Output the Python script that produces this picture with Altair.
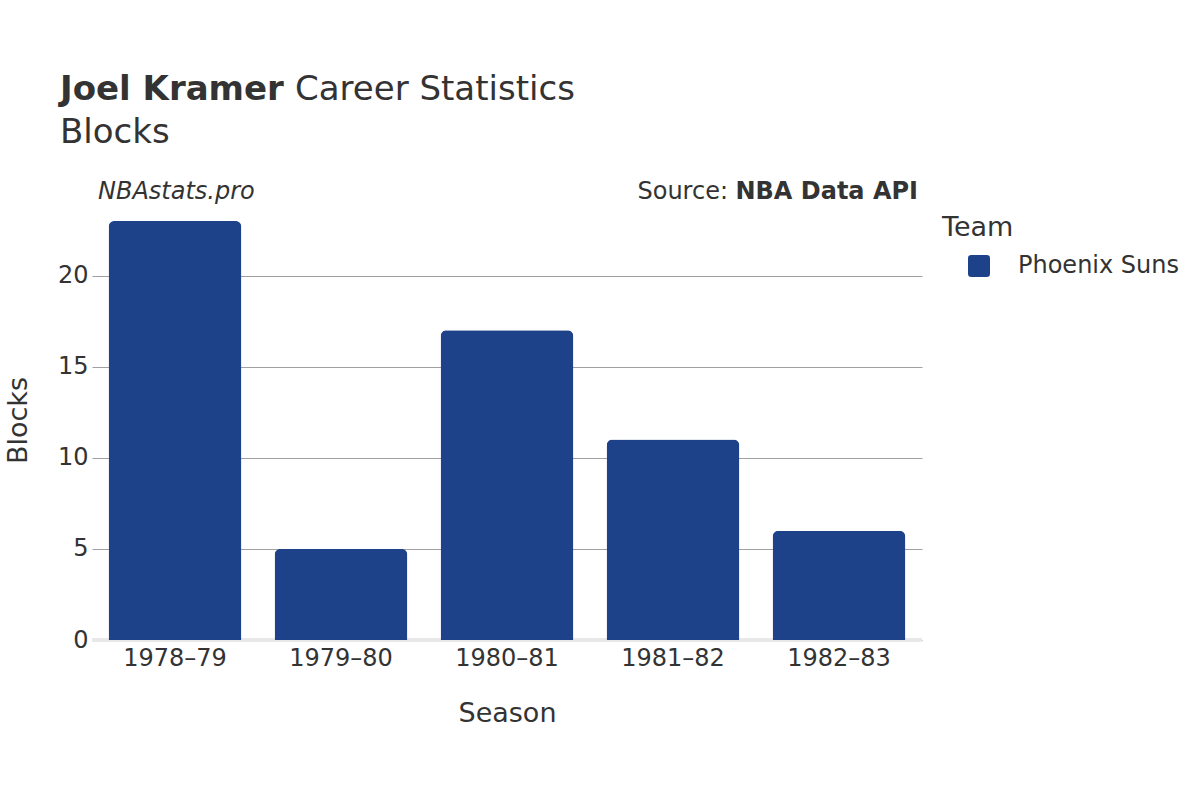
import altair as alt
import pandas as pd

# ---- data ----
seasons = ["1978–79", "1979–80", "1980–81", "1981–82", "1982–83"]
blocks = [23, 5, 17, 11, 6]
teams = ["Phoenix Suns"] * 5
team_colors = ["#1D428A"]
y_ticks = [0, 5, 10, 15, 20]

title_bold = "Joel Kramer"
title_rest = "Career Statistics"
subtitle = "Blocks"
credit = "NBAstats.pro"
source_lbl = "Source:"
source_name = "NBA Data API"

FONT = "DejaVu Sans"
TXT = "#333333"

df = pd.DataFrame({"Season": seasons, "Blocks": blocks, "Team": teams})

W, H = 830, 440

x_enc = alt.X(
    "Season:N",
    sort=seasons,
    scale=alt.Scale(paddingInner=0.2, paddingOuter=0.1),
    axis=alt.Axis(
        title="Season", labelAngle=0, domain=False, ticks=False,
        labelFontSize=24, labelPadding=6, labelColor=TXT, labelFont=FONT,
        titleFontSize=27, titleColor=TXT, titleFont=FONT, titleFontWeight="normal",
        titleBaseline="alphabetic", titleY=81, titleX=W / 2,
    ),
)
y_enc = alt.Y(
    "Blocks:Q",
    scale=alt.Scale(domain=[0, 24.15], nice=False),
    axis=alt.Axis(
        title="Blocks", values=y_ticks, domain=False, ticks=False,
        gridColor="#a0a0a0", gridWidth=1,
        labelFontSize=24, labelPadding=4, labelColor=TXT, labelFont=FONT,
        titleFontSize=27, titleColor=TXT, titleFont=FONT, titleFontWeight="normal",
        titleBaseline="alphabetic", titleX=-66, titleY=H / 2,
    ),
)

rounded_sq = ("M -0.7,-1 L 0.7,-1 Q 1,-1 1,-0.7 L 1,0.7 Q 1,1 0.7,1 L -0.7,1 "
              "Q -1,1 -1,0.7 L -1,-0.7 Q -1,-1 -0.7,-1 Z")

bars = alt.Chart(df).mark_bar(
    cornerRadiusTopLeft=6, cornerRadiusTopRight=6
).encode(
    x=x_enc,
    y=y_enc,
    color=alt.Color(
        "Team:N",
        scale=alt.Scale(domain=["Phoenix Suns"], range=team_colors),
        legend=alt.Legend(
            title="Team", orient="none", legendX=850, legendY=15, padding=0,
            titleFontSize=27, titleColor=TXT, titleFont=FONT, titleFontWeight="normal",
            titlePadding=12,
            labelFontSize=24, labelColor=TXT, labelFont=FONT, labelOffset=27,
            labelLimit=0,
            symbolType=rounded_sq, symbolSize=484, symbolOffset=25,
            symbolStrokeWidth=0, symbolOpacity=1,
        ),
    ),
)

zero = alt.Chart(pd.DataFrame({"z": [0]})).mark_rule(
    color="#e8e8e8", strokeWidth=4
).encode(y=alt.Y("z:Q"))


def txt(s, x, y, size, weight="normal", style="normal", align="left"):
    return alt.Chart(pd.DataFrame({"t": [s]})).mark_text(
        font=FONT, fontSize=size, fontWeight=weight, fontStyle=style,
        align=align, baseline="alphabetic", color=TXT,
    ).encode(text="t:N", x=alt.value(x), y=alt.value(y))


texts = [
    txt(title_bold, -32, -100, 34, weight="bold"),
    txt(title_rest, 203, -100, 34),
    txt(subtitle, -32, -57, 34),
    txt(credit, 6, -1, 24, style="italic"),
    txt(source_name, 826, -1, 24, weight="bold", align="right"),
    txt(source_lbl, 636, -1, 24, align="right"),
]

chart = alt.layer(zero, bars, *texts).properties(
    width=W, height=H,
    autosize=alt.AutoSizeParams(type="none"),
    padding={"left": 92, "top": 200, "right": 278, "bottom": 160},
    background="white",
).configure_view(stroke=None)

chart.save("out.html", embed_options={"renderer": "svg", "actions": False})
